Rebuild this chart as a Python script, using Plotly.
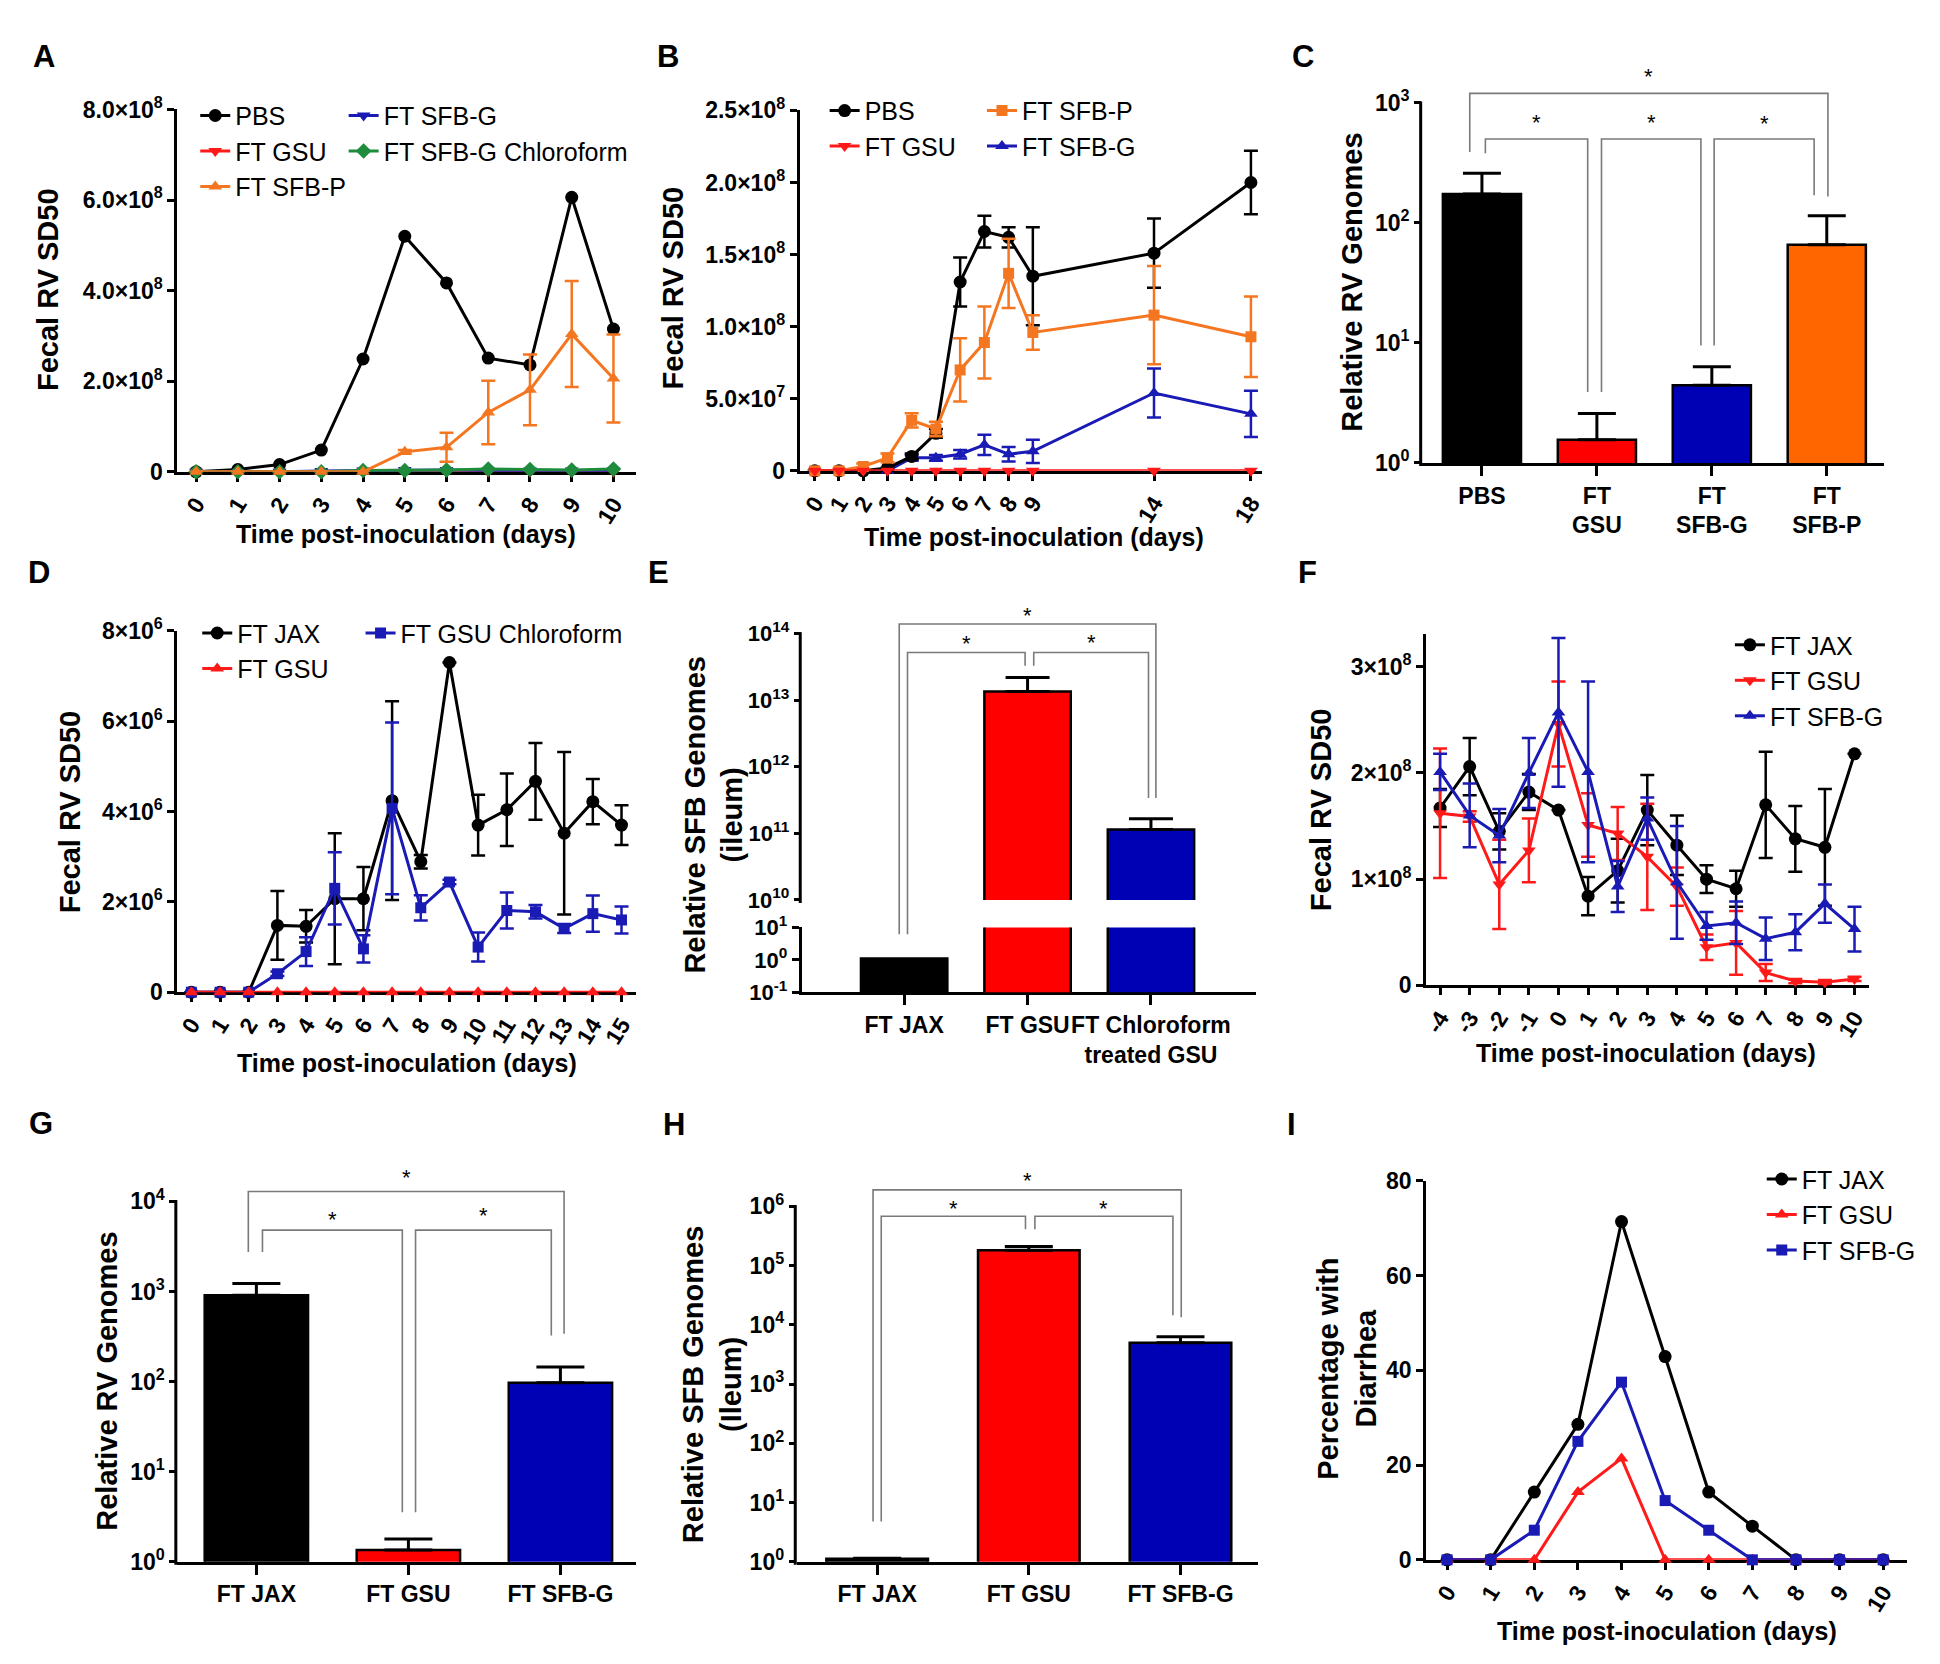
import math
import plotly.graph_objects as go

W, H = 1940, 1664
NARROW = "Liberation Sans Narrow, Arial Narrow, Liberation Sans, Arial, sans-serif"
SANS = "Liberation Sans, Arial, Helvetica, sans-serif"

BLACK = "#000000"
RED = "#FF1A1A"
ORANGE = "#F47621"
BLUE = "#1A1AB4"
GREEN = "#1E8C3C"
BAR_RED = "#FF0000"
BAR_BLUE = "#0000B4"
BAR_ORANGE = "#FF6600"

# ---------------- DATA ----------------
# Panel A
A_days = [0, 1, 2, 3, 4, 5, 6, 7, 8, 9, 10]
A_pbs = [0.0, 0.5e7, 1.6e7, 4.8e7, 2.49e8, 5.2e8, 4.17e8, 2.51e8, 2.36e8, 6.06e8, 3.15e8]
A_gsu = [0, 0, 0, 0, 0, 0, 0, 0, 0, 0, 0]
A_sfbp = [0, 0, 0, 0, 0, 4.4e7, 5.4e7, 1.31e8, 1.81e8, 3.04e8, 2.06e8]
A_sfbp_err = [0, 0, 0, 0, 0, 0.4e7, 3.2e7, 7.0e7, 7.8e7, 1.17e8, 0.97e8]
A_sfbg = [0, 0, 0, 0.2e7, 0.3e7, 0.4e7, 0.4e7, 0.3e7, 0.3e7, 0.3e7, 0.3e7]
A_sfbg_chl = [0, 0, 0, 0, 0.3e7, 0.3e7, 0.4e7, 0.6e7, 0.5e7, 0.4e7, 0.6e7]
A_ticks = [0, 2e8, 4e8, 6e8, 8e8]
A_ticktext = ["0", "2.0×10<sup>8</sup>", "4.0×10<sup>8</sup>", "6.0×10<sup>8</sup>", "8.0×10<sup>8</sup>"]

# Panel B
B_days = [0, 1, 2, 3, 4, 5, 6, 7, 8, 9, 14, 18]
B_pbs = [0, 0, 0, 0.2e7, 1.0e7, 2.6e7, 1.31e8, 1.66e8, 1.62e8, 1.35e8, 1.51e8, 2.0e8]
B_pbs_err = [0, 0, 0, 0, 0.2e7, 0.3e7, 1.7e7, 1.1e7, 0.7e7, 3.4e7, 2.4e7, 2.2e7]
B_gsu = [0, 0, 0, 0, 0, 0, 0, 0, 0, 0, 0, 0]
B_sfbp = [0, 0, 0.3e7, 0.9e7, 3.5e7, 2.9e7, 7.0e7, 8.9e7, 1.37e8, 9.6e7, 1.08e8, 9.3e7]
B_sfbp_err = [0, 0, 0.2e7, 0.3e7, 0.5e7, 0.5e7, 2.2e7, 2.5e7, 2.4e7, 1.2e7, 3.4e7, 2.8e7]
B_sfbg = [0, 0, 0, 0, 0.9e7, 0.9e7, 1.15e7, 1.8e7, 1.15e7, 1.35e7, 5.4e7, 3.95e7]
B_sfbg_err = [0, 0, 0, 0, 0.2e7, 0.2e7, 0.3e7, 0.7e7, 0.5e7, 0.8e7, 1.7e7, 1.6e7]
B_ticks = [0, 5e7, 1e8, 1.5e8, 2e8, 2.5e8]
B_ticktext = ["0", "5.0×10<sup>7</sup>", "1.0×10<sup>8</sup>", "1.5×10<sup>8</sup>",
              "2.0×10<sup>8</sup>", "2.5×10<sup>8</sup>"]

# Panel C
C_groups = ["PBS", "FT<br>GSU", "FT<br>SFB-G", "FT<br>SFB-P"]
C_vals = [174, 1.56, 4.44, 65.8]
C_err = [85, 1.02, 1.9, 49]
C_colors = [BLACK, BAR_RED, BAR_BLUE, BAR_ORANGE]

# Panel D
D_days = [0, 1, 2, 3, 4, 5, 6, 7, 8, 9, 10, 11, 12, 13, 14, 15]
D_jax = [0, 0, 0, 1.48e6, 1.46e6, 2.07e6, 2.07e6, 4.24e6, 2.89e6, 7.3e6, 3.7e6, 4.04e6, 4.67e6, 3.52e6, 4.22e6, 3.7e6]
D_jax_err = [0, 0, 0, 0.76e6, 0.36e6, 1.45e6, 0.7e6, 2.2e6, 0.15e6, 0, 0.67e6, 0.8e6, 0.85e6, 1.8e6, 0.5e6, 0.44e6]
D_gsu = [0, 0, 0, 0, 0, 0, 0, 0, 0, 0, 0, 0, 0, 0, 0, 0]
D_chl = [0, 0, 0, 0.41e6, 0.9e6, 2.3e6, 0.96e6, 4.07e6, 1.87e6, 2.44e6, 1.0e6, 1.81e6, 1.78e6, 1.41e6, 1.74e6, 1.6e6]
D_chl_err = [0, 0, 0, 0.05e6, 0.32e6, 0.8e6, 0.3e6, 1.9e6, 0.28e6, 0.05e6, 0.32e6, 0.4e6, 0.15e6, 0.1e6, 0.4e6, 0.3e6]
D_ticks = [0, 2e6, 4e6, 6e6, 8e6]
D_ticktext = ["0", "2×10<sup>6</sup>", "4×10<sup>6</sup>", "6×10<sup>6</sup>", "8×10<sup>6</sup>"]

# Panel E
E_groups = ["FT JAX", "FT GSU", "FT Chloroform<br>treated GSU"]
E_vals = [1.1, 1.35e13, 1.14e11]
E_err = [0, 0.85e13, 0.52e11]
E_colors = [BLACK, BAR_RED, BAR_BLUE]

# Panel F
F_days = [-4, -3, -2, -1, 0, 1, 2, 3, 4, 5, 6, 7, 8, 9, 10]
F_jax = [1.67e8, 2.06e8, 1.45e8, 1.82e8, 1.65e8, 0.84e8, 1.08e8, 1.65e8, 1.32e8, 1.0e8, 0.91e8, 1.70e8, 1.38e8, 1.30e8, 2.18e8]
F_jax_err = [0.18e8, 0.27e8, 0.17e8, 0.17e8, 0, 0.18e8, 0.3e8, 0.33e8, 0.28e8, 0.13e8, 0.17e8, 0.5e8, 0.31e8, 0.55e8, 0]
F_gsu = [1.62e8, 1.59e8, 0.95e8, 1.27e8, 2.46e8, 1.51e8, 1.43e8, 1.21e8, 0.93e8, 0.36e8, 0.40e8, 0.12e8, 0.04e8, 0.03e8, 0.06e8]
F_gsu_err = [0.61e8, 0.05e8, 0.42e8, 0.3e8, 0.4e8, 0.3e8, 0.25e8, 0.5e8, 0.18e8, 0.12e8, 0.3e8, 0.08e8, 0.02e8, 0.02e8, 0.02e8]
F_sfbg = [2.01e8, 1.6e8, 1.41e8, 2.0e8, 2.57e8, 2.01e8, 0.93e8, 1.57e8, 0.97e8, 0.56e8, 0.59e8, 0.44e8, 0.5e8, 0.77e8, 0.53e8]
F_sfbg_err = [0.17e8, 0.3e8, 0.25e8, 0.33e8, 0.7e8, 0.85e8, 0.24e8, 0.2e8, 0.53e8, 0.13e8, 0.2e8, 0.2e8, 0.17e8, 0.18e8, 0.21e8]
F_ticks = [0, 1e8, 2e8, 3e8]
F_ticktext = ["0", "1×10<sup>8</sup>", "2×10<sup>8</sup>", "3×10<sup>8</sup>"]

# Panel G
G_groups = ["FT JAX", "FT GSU", "FT SFB-G"]
G_vals = [910, 1.35, 97]
G_err = [320, 0.44, 48]
G_colors = [BLACK, BAR_RED, BAR_BLUE]

# Panel H
H_groups = ["FT JAX", "FT GSU", "FT SFB-G"]
H_vals = [1.12, 1.82e5, 4.97e3]
H_err = [0.03, 0.28e5, 1.33e3]
H_colors = [BLACK, BAR_RED, BAR_BLUE]

# Panel I
I_days = [0, 1, 2, 3, 4, 5, 6, 7, 8, 9, 10]
I_jax = [0, 0, 14.3, 28.6, 71.4, 42.9, 14.3, 7.1, 0, 0, 0]
I_gsu = [0, 0, 0, 14.3, 21.4, 0, 0, 0, 0, 0, 0]
I_sfbg = [0, 0, 6.25, 25, 37.5, 12.5, 6.25, 0, 0, 0, 0]
I_ticks = [0, 20, 40, 60, 80]

# ---------------- GEOMETRY (pixels) ----------------
GEOM = {
    "A": dict(xa="x", ya="y", x=(165, 626), y=(86, 455), xr=(-0.45, 10.55), yr=(0, 8e8), log=False),
    "B": dict(xa="x2", ya="y2", x=(790, 1254), y=(87, 454), xr=(-0.62, 18.45), yr=(0, 2.5e8), log=False),
    "C": dict(xa="x3", ya="y3", x=(1415, 1879), y=(40, 446), xr=(-0.52, 3.5), yr=(0, 3.322), log=True),
    "D": dict(xa="x4", ya="y4", x=(165, 626), y=(617, 985), xr=(-0.49, 15.52), yr=(0, 8e6), log=False),
    "EU": dict(xa="x5", ya="y5", x=(792, 1248), y=(590, 891), xr=(-0.83, 2.85), yr=(10, 14.44), log=True),
    "EL": dict(xa="x6", ya="y6", x=(792, 1248), y=(919, 985), xr=(-0.83, 2.85), yr=(-1, 1), log=True),
    "F": dict(xa="x7", ya="y7", x=(1419, 1864), y=(620, 978), xr=(-4.47, 10.5), yr=(0, 3.31e8), log=False),
    "G": dict(xa="x8", ya="y8", x=(165, 626), y=(1150, 1565), xr=(-0.52, 2.5), yr=(0, 4.523), log=True),
    "H": dict(xa="x9", ya="y9", x=(787, 1250), y=(1150, 1565), xr=(-0.53, 2.51), yr=(0, 6.88), log=True),
    "I": dict(xa="x10", ya="y10", x=(1419, 1902), y=(1177, 1563), xr=(-0.48, 10.55), yr=(0, 80), log=False),
}


def axkey(a):
    return a[0] + "axis" + a[1:]


def xpix(p, v):
    X0, X1 = p["x"]
    r0, r1 = p["xr"]
    return X0 + (v - r0) / (r1 - r0) * (X1 - X0)


def ypix(p, v):
    T, B = p["y"]
    r0, r1 = p["yr"]
    vv = math.log10(v) if p["log"] else v
    return B - (vv - r0) / (r1 - r0) * (B - T)


def PX(x):
    return x / W


def PY(y):
    return 1 - y / H


fig = go.Figure()
layout = dict(width=W, height=H, margin=dict(l=0, r=0, t=0, b=0), autosize=False,
              paper_bgcolor="white", plot_bgcolor="white", showlegend=True,
              font=dict(family=SANS, color="black"))
shapes = []
annotations = []

TICKFONT = dict(family=SANS, size=23, color="black", weight="bold")
XTICKFONT = dict(family=SANS, size=23, color="black", weight="bold")
BARFONT = dict(family=SANS, size=23, color="black", weight="bold")


def base_axis(p, which):
    if which == "x":
        dom = [PX(p["x"][0]), PX(p["x"][1])]
        rng = list(p["xr"])
        anchor = p["ya"]
    else:
        dom = [PY(p["y"][1]), PY(p["y"][0])]
        rng = list(p["yr"])
        anchor = p["xa"]
    return dict(domain=dom, range=rng, anchor=anchor, showgrid=False, zeroline=False,
                showline=True, linecolor="black", linewidth=3, ticks="outside",
                ticklen=7, tickwidth=2.5, tickcolor="black", tickfont=TICKFONT,
                layer="below traces", fixedrange=True)


def line_panel(p, xticks, xticktext, yticks, yticktext):
    xa = base_axis(p, "x")
    xa.update(tickmode="array", tickvals=xticks, ticktext=xticktext, tickangle=-58,
              tickfont=XTICKFONT)
    ya = base_axis(p, "y")
    ya.update(tickmode="array", tickvals=yticks, ticktext=yticktext)
    layout[axkey(p["xa"])] = xa
    layout[axkey(p["ya"])] = ya


def add_line(p, x, y, err, name, color, symbol, legend, rank, size=12):
    tr = go.Scatter(x=x, y=y, mode="lines+markers", name=name,
                    line=dict(color=color, width=3),
                    marker=dict(color=color, symbol=symbol, size=size, line=dict(width=0)),
                    xaxis=p["xa"], yaxis=p["ya"], legend=legend, legendrank=rank,
                    cliponaxis=False)
    if err is not None:
        tr.error_y = dict(type="data", array=err, visible=True, color=color,
                          thickness=2.5, width=7)
    fig.add_trace(tr)


def bar_panel(p, groups, vals, err, colors, width, capw, ytickvals, yticktext, top_tick,
              show_x=True, show_err=True, manual_line=True, yfont=None):
    idx = list(range(len(groups)))
    tr = go.Bar(x=idx, y=vals, width=width, showlegend=False,
                marker=dict(color=colors, line=dict(color="black", width=2.5)),
                xaxis=p["xa"], yaxis=p["ya"])
    if show_err:
        tr.error_y = dict(type="data", symmetric=False, array=err,
                          arrayminus=[0 for _ in err], color="black", thickness=3, width=capw)
    fig.add_trace(tr)
    xa = base_axis(p, "x")
    xa.update(tickmode="array", tickvals=idx, ticktext=groups, ticklen=10, tickfont=BARFONT,
              tickangle=0)
    if not show_x:
        xa.update(showline=False, ticks="", showticklabels=False)
    ya = base_axis(p, "y")
    ya.update(type="log", tickmode="array", tickvals=ytickvals, ticktext=yticktext)
    if yfont is not None:
        ya.update(tickfont=yfont)
    if manual_line:
        ya.update(showline=False)
        bottom = 10 ** p["yr"][0]
        shapes.append(dict(type="line", xref="paper", yref="paper",
                           x0=PX(p["x"][0] - 1.5), x1=PX(p["x"][0] - 1.5),
                           y0=PY(ypix(p, bottom) + 3), y1=PY(ypix(p, top_tick) - 1.5),
                           line=dict(color="black", width=3)))
    layout[axkey(p["xa"])] = xa
    layout[axkey(p["ya"])] = ya


def brackets(p, specs, pmap=None):
    for (i, j, level, lb, rb, stary, loff, roff) in specs:
        def yp(v):
            q = p if pmap is None else pmap(v)
            return ypix(q, v)
        xl = xpix(p, i + loff)
        xr = xpix(p, j + roff)
        path = "M {:.5f},{:.5f} L {:.5f},{:.5f} L {:.5f},{:.5f} L {:.5f},{:.5f}".format(
            PX(xl), PY(yp(lb)), PX(xl), PY(yp(level)), PX(xr), PY(yp(level)), PX(xr), PY(yp(rb)))
        shapes.append(dict(type="path", xref="paper", yref="paper", path=path,
                           line=dict(color="#7a7a7a", width=1.6)))
        annotations.append(dict(x=PX((xl + xr) / 2), y=PY(yp(stary)), xref="paper", yref="paper",
                                text="*", showarrow=False, xanchor="center", yanchor="middle",
                                font=dict(family=SANS, size=22, color="black")))


def pow_text(exps):
    return ["10<sup>{}</sup>".format(e) for e in exps]


# ---------------- Panel A ----------------
pA = GEOM["A"]
line_panel(pA, A_days, [str(d) for d in A_days], A_ticks, A_ticktext)
add_line(pA, A_days, A_gsu, None, "FT GSU", RED, "triangle-down", "legend", 2)
add_line(pA, A_days, A_pbs, None, "PBS", BLACK, "circle", "legend", 1, size=13)
add_line(pA, A_days, A_sfbg, None, "FT SFB-G", BLUE, "triangle-down", "legend2", 4)
add_line(pA, A_days, A_sfbg_chl, None, "FT SFB-G Chloroform", GREEN, "diamond", "legend2", 5)
add_line(pA, A_days, A_sfbp, A_sfbp_err, "FT SFB-P", ORANGE, "triangle-up", "legend", 3)

# ---------------- Panel B ----------------
pB = GEOM["B"]
line_panel(pB, B_days, [str(d) for d in B_days], B_ticks, B_ticktext)
add_line(pB, B_days, B_sfbg, B_sfbg_err, "FT SFB-G", BLUE, "triangle-up", "legend4", 4)
add_line(pB, B_days, B_pbs, B_pbs_err, "PBS", BLACK, "circle", "legend3", 1, size=13)
add_line(pB, B_days, B_sfbp, B_sfbp_err, "FT SFB-P", ORANGE, "square", "legend4", 3, size=11)
add_line(pB, B_days, B_gsu, None, "FT GSU", RED, "triangle-down", "legend3", 2)

# ---------------- Panel C ----------------
pC = GEOM["C"]
bar_panel(pC, C_groups, C_vals, C_err, C_colors, 0.68, 19, [1, 10, 100, 1000],
          pow_text([0, 1, 2, 3]), 1000)
brackets(pC, [
    (0, 3, 1200, 390, 166, 1660, -0.106, 0.01),
    (0, 1, 500, 380, 3.9, 690, 0.03, -0.08),
    (1, 2, 500, 3.9, 9.5, 690, 0.04, -0.095),
    (2, 3, 500, 9.5, 170, 680, 0.02, -0.11),
])

# ---------------- Panel D ----------------
pD = GEOM["D"]
line_panel(pD, D_days, [str(d) for d in D_days], D_ticks, D_ticktext)
add_line(pD, D_days, D_jax, D_jax_err, "FT JAX", BLACK, "circle", "legend5", 1, size=13)
add_line(pD, D_days, D_chl, D_chl_err, "FT GSU Chloroform", BLUE, "square", "legend6", 3, size=11)
add_line(pD, D_days, D_gsu, None, "FT GSU", RED, "triangle-up", "legend5", 2)

# ---------------- Panel E (broken axis) ----------------
pEU = GEOM["EU"]
pEL = GEOM["EL"]
EFONT = dict(family=SANS, size=22, color="black", weight="bold")
bar_panel(pEU, E_groups, E_vals, E_err, E_colors, 0.7, 22,
          [1e10, 1e11, 1e12, 1e13, 1e14], pow_text([10, 11, 12, 13, 14]), 1e14, show_x=False,
          yfont=EFONT)
bar_panel(pEL, E_groups, E_vals, E_err, E_colors, 0.7, 22,
          [0.1, 1, 10], pow_text([-1, 0, 1]), 10, show_err=False, manual_line=False, yfont=EFONT)
layout[axkey(pEL["ya"])].update(showline=True)
brackets(pEU, [
    (0, 2, 1.4e14, 6.2, 3.4e11, 1.9e14, -0.04, 0.04),
    (0, 1, 5.2e13, 6.2, 3.3e13, 7.1e13, 0.027, -0.02),
    (1, 2, 5.2e13, 3.3e13, 3.4e11, 7.4e13, 0.05, -0.02),
], pmap=lambda v: pEL if v < 1e5 else pEU)

# ---------------- Panel F ----------------
pF = GEOM["F"]
line_panel(pF, F_days, [str(d) for d in F_days], F_ticks, F_ticktext)
add_line(pF, F_days, F_jax, F_jax_err, "FT JAX", BLACK, "circle", "legend7", 1, size=13)
add_line(pF, F_days, F_gsu, F_gsu_err, "FT GSU", RED, "triangle-down", "legend7", 2)
add_line(pF, F_days, F_sfbg, F_sfbg_err, "FT SFB-G", BLUE, "triangle-up", "legend7", 3)

# ---------------- Panel G ----------------
pG = GEOM["G"]
bar_panel(pG, G_groups, G_vals, G_err, G_colors, 0.68, 24, [1, 10, 100, 1000, 10000],
          pow_text([0, 1, 2, 3, 4]), 10000)
brackets(pG, [
    (0, 2, 12900, 2750, 340, 18200, -0.053, 0.024),
    (0, 1, 4800, 2750, 3.55, 6300, 0.04, -0.04),
    (1, 2, 4800, 3.55, 324, 6900, 0.047, -0.06),
])

# ---------------- Panel H ----------------
pH = GEOM["H"]
bar_panel(pH, H_groups, H_vals, H_err, H_colors, 0.67, 24,
          [1, 10, 100, 1e3, 1e4, 1e5, 1e6], pow_text([0, 1, 2, 3, 4, 5, 6]), 1e6)
brackets(pH, [
    (0, 2, 1.9e6, 4.8, 1.35e4, 2.7e6, -0.027, 0.005),
    (0, 1, 6.8e5, 4.8, 4.1e5, 9.3e5, 0.027, -0.022),
    (1, 2, 6.8e5, 4.1e5, 1.45e4, 9.3e5, 0.04, -0.05),
])

# ---------------- Panel I ----------------
pI = GEOM["I"]
line_panel(pI, I_days, [str(d) for d in I_days], I_ticks, [str(t) for t in I_ticks])
add_line(pI, I_days, I_jax, None, "FT JAX", BLACK, "circle", "legend8", 1, size=13)
add_line(pI, I_days, I_gsu, None, "FT GSU", RED, "triangle-up", "legend8", 2)
add_line(pI, I_days, I_sfbg, None, "FT SFB-G", BLUE, "square", "legend8", 3, size=11)

# ---------------- Legends ----------------
def legend_at(xpx, ypx):
    return dict(x=PX(xpx), y=PY(ypx), xanchor="left", yanchor="top",
                bgcolor="rgba(0,0,0,0)", borderwidth=0, itemwidth=30,
                font=dict(family=NARROW, size=25, color="black"),
                tracegroupgap=0, traceorder="normal")


layout["legend"] = legend_at(183, 69)
layout["legend2"] = legend_at(332, 69)
layout["legend3"] = legend_at(815, 64)
layout["legend4"] = legend_at(973, 64)
layout["legend5"] = legend_at(185, 596)
layout["legend6"] = legend_at(349, 596)
layout["legend7"] = legend_at(1724, 608)
layout["legend8"] = legend_at(1756, 1152)

# ---------------- Titles & letters ----------------
YT = dict(family=SANS, size=29, color="black", weight="bold")
XT = dict(family=SANS, size=25, color="black", weight="bold")
LT = dict(family=SANS, size=31, color="black", weight="bold")


def ann(xpx, ypx, text, font, angle=0):
    annotations.append(dict(x=PX(xpx), y=PY(ypx), xref="paper", yref="paper", text=text,
                            showarrow=False, xanchor="center", yanchor="middle",
                            textangle=angle, font=font))


for (xx, yy, t) in [(35, 269, "Fecal RV SD50"), (663, 268, "Fecal RV SD50"),
                    (1345, 262, "Relative RV Genomes"), (57, 801, "Fecal RV SD50"),
                    (703, 804, "Relative SFB Genomes<br>(ileum)"), (1313, 799, "Fecal RV SD50"),
                    (94, 1381, "Relative RV Genomes"), (702, 1384, "Relative SFB Genomes<br>(Ileum)"),
                    (1340, 1368, "Percentage with<br>Diarrhea")]:
    ann(xx, yy, t, YT, -90)

for (xx, yy) in [(395, 518), (1025, 521), (396, 1057), (1640, 1047), (1661, 1635)]:
    ann(xx, yy, "Time post-inoculation (days)", XT)

for (xx, yy, t) in [(31, 32, "A"), (658, 32, "B"), (1295, 32, "C"),
                    (26, 558, "D"), (648, 558, "E"), (1300, 558, "F"),
                    (28, 1119, "G"), (664, 1120, "H"), (1284, 1120, "I")]:
    ann(xx, yy, t, LT)

layout["shapes"] = shapes
layout["annotations"] = annotations
fig.update_layout(**layout)
fig.write_html("out.html")
